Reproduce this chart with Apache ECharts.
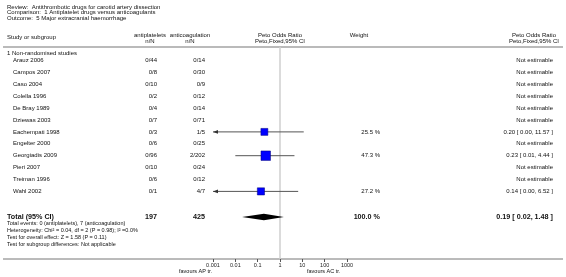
<!DOCTYPE html>
<html><head><meta charset="utf-8">
<script src="https://cdn.jsdelivr.net/npm/echarts@6/dist/echarts.min.js"></script>
<style>html,body{margin:0;padding:0;background:#fff}#c{width:566px;height:277px}</style>
</head><body><div id="c"></div>
<script>
// ---------- data ----------
const titleLines = [
  'Review:  Antithrombotic drugs for carotid artery dissection',
  'Comparison:  1 Antiplatelet drugs versus anticoagulants',
  'Outcome:  5 Major extracranial haemorrhage'
];
const subgroup = '1 Non-randomised studies';
const studies = ['Arauz 2006','Campos 2007','Caso 2004','Colella 1996','De Bray 1989','Dziewas 2003',
  'Eachempati 1998','Engelter 2000','Georgiadis 2009','Pieri 2007','Treiman 1996','Wahl 2002'];
const apCounts = ['0/44','0/8','0/10','0/2','0/4','0/7','0/3','0/6','0/96','0/10','0/6','0/1'];
const acCounts = ['0/14','0/30','0/9','0/12','0/14','0/71','1/5','0/25','2/202','0/24','0/12','4/7'];
const weightText = ['','','','','','','25.5 %','','47.3 %','','','27.2 %'];
const resultText = ['Not estimable','Not estimable','Not estimable','Not estimable','Not estimable','Not estimable',
  '0.20 [ 0.00, 11.57 ]','Not estimable','0.23 [ 0.01, 4.44 ]','Not estimable','Not estimable','0.14 [ 0.00, 6.52 ]'];
const orValue  = [null,null,null,null,null,null,0.20,null,0.23,null,null,0.14];
const ciLower  = [null,null,null,null,null,null,0.001,null,0.01,null,null,0.001]; // 0.00 -> off scale (arrow)
const ciUpper  = [null,null,null,null,null,null,11.57,null,4.44,null,null,6.52];
const weightPct= [null,null,null,null,null,null,25.5,null,47.3,null,null,27.2];
const totalLabel = 'Total (95% CI)';
const totalAP = '197', totalAC = '425';
const totalWeight = '100.0 %';
const totalResult = '0.19 [ 0.02, 1.48 ]';
const totalOR = [0.19, 0.02, 1.48];
const footnotes = [
  'Total events: 0 (antiplatelets), 7 (anticoagulation)',
  'Heterogeneity: Chi\u00B2 = 0.04, df = 2 (P = 0.98); I\u00B2 =0.0%',
  'Test for overall effect: Z = 1.58 (P = 0.11)',
  'Test for subgroup differences: Not applicable'
];
const axisMin = 0.001, axisMax = 1000;
const favourLeft = 'favours AP tr.', favourRight = 'favours AC tr.';

// ---------- layout ----------
const FONT = '"Liberation Sans", Arial, sans-serif';
const X = {sub:7, name:13, ap:157, ac:205, weight:380, res:553};
const ROW0 = 60.5, STEP = 11.9, GTOP = 47, GBOT = 259;
const yMin = (GTOP - ROW0) / STEP, yMax = (GBOT - ROW0) / STEP;
const totalRow = (217 - ROW0) / STEP;
const subRow = (53.5 - ROW0) / STEP;

function txt(x, y, text, align, size, bold, fill) {
  return {type:'text', style:{x, y, text, align:align||'left', verticalAlign:'middle',
    fontSize:size||6, fontFamily:FONT, fontWeight:bold?'bold':'normal', fill:fill||'#111'}};
}

const chart = echarts.init(document.getElementById('c'), null, {renderer:'canvas'});

const rowData = studies.map((s,i)=>[1, i]);
const markData = [];
orValue.forEach((v,i)=>{ if (v!=null) markData.push([v, ciLower[i], ciUpper[i], i, weightPct[i]]); });

const graphics = [];
titleLines.forEach((t,k)=>graphics.push(txt(7, 7 + k*5.7, t, 'left', 6)));
graphics.push(txt(7, 37.5, 'Study or subgroup', 'left', 6));
graphics.push(txt(150, 35.5, 'antiplatelets', 'center', 6));
graphics.push(txt(150, 41.5, 'n/N', 'center', 6));
graphics.push(txt(190, 35.5, 'anticoagulation', 'center', 6));
graphics.push(txt(190, 41.5, 'n/N', 'center', 6));
graphics.push(txt(280, 35.5, 'Peto Odds Ratio', 'center', 6));
graphics.push(txt(280, 41.5, 'Peto,Fixed,95% CI', 'center', 6));
graphics.push(txt(359, 35.5, 'Weight', 'center', 6));
graphics.push(txt(534, 35.5, 'Peto Odds Ratio', 'center', 6));
graphics.push(txt(534, 41.5, 'Peto,Fixed,95% CI', 'center', 6));
graphics.push({type:'line', shape:{x1:3,y1:GTOP,x2:563,y2:GTOP}, style:{stroke:'#777', lineWidth:1.2}});
graphics.push({type:'line', shape:{x1:3,y1:GBOT,x2:563,y2:GBOT}, style:{stroke:'#777', lineWidth:1}});
footnotes.forEach((t,k)=>graphics.push(txt(7, 223.5 + k*7, t, 'left', 5.5)));
graphics.push(txt(212, 271, favourLeft, 'right', 5.5));
graphics.push(txt(307, 271, favourRight, 'left', 5.5));

chart.setOption({
  animation:false,
  backgroundColor:'#fff',
  grid:{left:213, right:566-347, top:GTOP, bottom:277-GBOT, containLabel:false},
  xAxis:{type:'log', logBase:10, min:axisMin, max:axisMax, position:'bottom',
    axisLine:{show:false, onZero:false},
    axisTick:{show:true, length:3, lineStyle:{color:'#555'}},
    minorTick:{show:false}, splitLine:{show:false},
    axisLabel:{fontSize:5.5, fontFamily:FONT, color:'#222', margin:3,
      formatter:v=>String(+(+v).toPrecision(3))}},
  yAxis:{type:'value', inverse:true, min:yMin, max:yMax, show:false},
  graphic:graphics,
  series:[
    { // reference line at 1
      type:'custom', coordinateSystem:'cartesian2d', z:1,
      data:[[1]],
      renderItem:(p,api)=>{
        const a = api.coord([api.value(0), yMin]), b = api.coord([api.value(0), yMax]);
        return {type:'line', shape:{x1:a[0],y1:a[1],x2:b[0],y2:b[1]}, style:{stroke:'#cfcfcf', lineWidth:1.5}};
      }
    },
    { // row texts
      type:'custom', coordinateSystem:'cartesian2d', z:3, clip:false,
      data:rowData,
      renderItem:(p,api)=>{
        const i = api.value(1);
        const y = api.coord([1, i])[1];
        return {type:'group', children:[
          txt(X.name, y, studies[i], 'left'),
          txt(X.ap, y, apCounts[i], 'right'),
          txt(X.ac, y, acCounts[i], 'right'),
          txt(X.weight, y, weightText[i], 'right'),
          txt(X.res, y, resultText[i], 'right')
        ]};
      }
    },
    { // subgroup heading and total row
      type:'custom', coordinateSystem:'cartesian2d', z:3, clip:false,
      data:[[1, subRow, 0],[1, totalRow, 1]],
      renderItem:(p,api)=>{
        const y = api.coord([1, api.value(1)])[1];
        if (api.value(2)===0) return txt(X.sub, y, subgroup, 'left');
        return {type:'group', children:[
          txt(X.sub, y, totalLabel, 'left', 7.2, true),
          txt(X.ap, y, totalAP, 'right', 7.2, true),
          txt(X.ac, y, totalAC, 'right', 7.2, true),
          txt(X.weight, y, totalWeight, 'right', 7.2, true),
          txt(X.res, y, totalResult, 'right', 7.2, true)
        ]};
      }
    },
    { // study estimates and CIs
      type:'custom', coordinateSystem:'cartesian2d', z:4, clip:false,
      data:markData,
      encode:{x:[0,1,2], y:3},
      renderItem:(p,api)=>{
        const row = api.value(3);
        const c = api.coord([api.value(0), row]);
        const l = api.coord([api.value(1), row]);
        const r = api.coord([api.value(2), row]);
        const s = Math.sqrt(api.value(4)) * 1.38;
        const ch = [
          {type:'line', shape:{x1:l[0],y1:l[1],x2:r[0],y2:r[1]}, style:{stroke:'#555', lineWidth:1}},
          {type:'rect', shape:{x:c[0]-s/2, y:c[1]-s/2, width:s, height:s}, style:{fill:'#0000ff', stroke:'#00007a', lineWidth:0.5}}
        ];
        if (api.value(1) <= axisMin) {
          ch.push({type:'polygon', shape:{points:[[l[0], l[1]],[l[0]+5, l[1]-1.8],[l[0]+5, l[1]+1.8]]}, style:{fill:'#333'}});
        }
        return {type:'group', children:ch};
      }
    },
    { // pooled diamond
      type:'custom', coordinateSystem:'cartesian2d', z:4, clip:false,
      data:[[totalOR[0], totalOR[1], totalOR[2], totalRow]],
      encode:{x:[0,1,2], y:3},
      renderItem:(p,api)=>{
        const row = api.value(3);
        const c = api.coord([api.value(0), row]);
        const l = api.coord([api.value(1), row]);
        const r = api.coord([api.value(2), row]);
        return {type:'polygon', shape:{points:[[l[0],c[1]],[c[0],c[1]-3.2],[r[0],c[1]],[c[0],c[1]+3.2]]}, style:{fill:'#000'}};
      }
    }
  ]
});
</script>
</body></html>
